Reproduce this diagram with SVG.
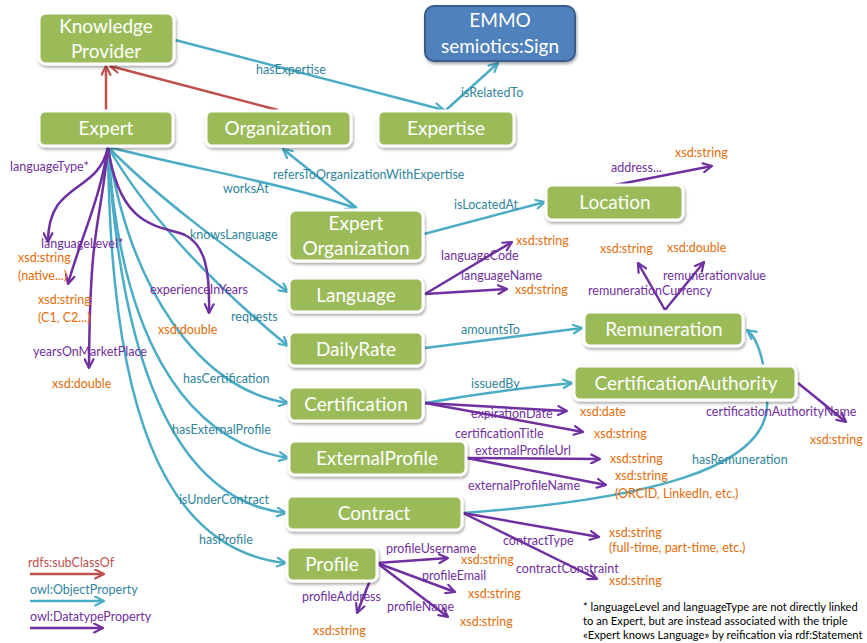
<svg xmlns="http://www.w3.org/2000/svg" width="867" height="643" viewBox="0 0 867 643">
<defs>
<filter id="sh" x="-10%" y="-20%" width="130%" height="160%">
<feDropShadow dx="1" dy="2" stdDeviation="1.6" flood-color="#000" flood-opacity="0.35"/>
</filter>
<marker id="aR" viewBox="0 0 10 10" refX="9" refY="5" markerWidth="11" markerHeight="11" markerUnits="userSpaceOnUse" orient="auto"><path d="M1,1 L9,5 L1,9" fill="none" stroke="#c0504d" stroke-width="2" stroke-linecap="round" stroke-linejoin="round"/></marker>
<marker id="aT" viewBox="0 0 10 10" refX="9" refY="5" markerWidth="11" markerHeight="11" markerUnits="userSpaceOnUse" orient="auto"><path d="M1,1 L9,5 L1,9" fill="none" stroke="#4bacc6" stroke-width="2" stroke-linecap="round" stroke-linejoin="round"/></marker>
<marker id="aP" viewBox="0 0 10 10" refX="9" refY="5" markerWidth="11" markerHeight="11" markerUnits="userSpaceOnUse" orient="auto"><path d="M1,1 L9,5 L1,9" fill="none" stroke="#7030a0" stroke-width="2" stroke-linecap="round" stroke-linejoin="round"/></marker>
</defs>
<style>
.box{fill:#9bbb59;stroke:#fff;stroke-width:3;filter:url(#sh)}
.emmo{fill:#4f81bd;stroke:#385d8a;stroke-width:2;filter:url(#sh)}
.nt{font-family:Lato,"Open Sans",sans-serif;font-size:19px;fill:#fff;text-anchor:middle}
.r{fill:none;stroke:#c0504d;stroke-width:2.5;marker-end:url(#aR)}
.t{fill:none;stroke:#4bacc6;stroke-width:2.5;marker-end:url(#aT)}
.p{fill:none;stroke:#7030a0;stroke-width:2.5;marker-end:url(#aP)}
.lt{font-family:Lato,"Open Sans",sans-serif;font-size:12.5px;fill:#31859c}
.lp{font-family:Lato,"Open Sans",sans-serif;font-size:12.5px;fill:#7030a0}
.lo{font-family:Lato,"Open Sans",sans-serif;font-size:12.5px;fill:#e46c0a}
.lr{font-family:Lato,"Open Sans",sans-serif;font-size:12.5px;fill:#c0504d}
.fn{font-family:Lato,"Open Sans",sans-serif;font-size:11.2px;fill:#000}
</style>
<rect width="867" height="643" fill="#fff"/>

<g id="connectors">
<path class="r" d="M106,110 L106,66"/>
<path class="r" d="M278,110 L110,66"/>
<path class="t" d="M175,40 L444,110"/>
<path class="t" d="M446,110 L498,63"/>
<path class="t" d="M108,147 C200,170 290,185 355,208"/>
<path class="t" d="M357,208 L283,149"/>
<path class="t" d="M424,234 L545,202"/>
<path class="t" d="M425,348 L582,328"/>
<path class="t" d="M425,403 Q500,390 572,383"/>
<path class="t" d="M463,513 C640,500 772,470 767,400 C766,370 760,340 747,330"/>
<path class="t" d="M108,147 C160,200 230,250 288,292"/>
<path class="t" d="M108,147 C150,220 220,290 288,346"/>
<path class="t" d="M108,147 C130,290 200,390 288,403"/>
<path class="t" d="M108,147 C120,330 180,440 288,458"/>
<path class="t" d="M108,147 C120,350 170,500 286,513"/>
<path class="t" d="M108,147 C110,400 160,550 286,563"/>
<path class="p" d="M108,147 C98,195 48,180 48,242"/>
<path class="p" d="M108,147 C100,200 80,240 68,284"/>
<path class="p" d="M108,147 C100,230 90,220 89,368"/>
<path class="p" d="M108,147 C120,230 160,225 185,235 C205,245 210,270 209,313"/>
<path class="p" d="M425,294 L512,242"/>
<path class="p" d="M425,294 L507,289"/>
<path class="p" d="M615,185 L712,166"/>
<path class="p" d="M665,310 L638,263"/>
<path class="p" d="M665,310 L704,262"/>
<path class="p" d="M425,403 L567,411"/>
<path class="p" d="M425,403 L583,432"/>
<path class="p" d="M798,383 L846,422"/>
<path class="p" d="M467,458 L600,459"/>
<path class="p" d="M467,458 L606,485"/>
<path class="p" d="M463,513 L599,537"/>
<path class="p" d="M463,513 L597,579"/>
<path class="p" d="M377,563 L448,558"/>
<path class="p" d="M377,563 L455,592"/>
<path class="p" d="M377,563 L448,617"/>
<path class="p" d="M377,563 L357,613"/>
</g>

<g id="connector-labels">
<text class="lt" x="256" y="74">hasExpertise</text>
<text class="lt" x="461" y="97">isRelatedTo</text>
<text class="lt" x="273" y="179">refersToOrganizationWithExpertise</text>
<text class="lt" x="223" y="193">worksAt</text>
<text class="lt" x="454" y="209">isLocatedAt</text>
<text class="lt" x="190" y="239">knowsLanguage</text>
<text class="lt" x="231" y="321">requests</text>
<text class="lt" x="461" y="334">amountsTo</text>
<text class="lt" x="183" y="383">hasCertification</text>
<text class="lt" x="471" y="388">issuedBy</text>
<text class="lt" x="172" y="434">hasExternalProfile</text>
<text class="lt" x="692" y="464">hasRemuneration</text>
<text class="lt" x="179" y="504">isUnderContract</text>
<text class="lt" x="199" y="544">hasProfile</text>
<text class="lp" x="10" y="171">languageType*</text>
<text class="lp" x="41" y="248">languageLevel*</text>
<text class="lp" x="150" y="294">experienceInYears</text>
<text class="lp" x="33" y="356">yearsOnMarketPlace</text>
<text class="lp" x="611" y="172">address...</text>
<text class="lp" x="441" y="260">languageCode</text>
<text class="lp" x="461" y="280">languageName</text>
<text class="lp" x="663" y="280">remunerationvalue</text>
<text class="lp" x="588" y="295">remunerationCurrency</text>
<text class="lp" x="471" y="418">expirationDate</text>
<text class="lp" x="706" y="416">certificationAuthorityName</text>
<text class="lp" x="455" y="438">certificationTitle</text>
<text class="lp" x="475" y="455">externalProfileUrl</text>
<text class="lp" x="468" y="490">externalProfileName</text>
<text class="lp" x="503" y="545">contractType</text>
<text class="lp" x="516" y="573">contractConstraint</text>
<text class="lp" x="386" y="553">profileUsername</text>
<text class="lp" x="422" y="580">profileEmail</text>
<text class="lp" x="302" y="601">profileAddress</text>
<text class="lp" x="387" y="611">profileName</text>
</g>

<g id="literals">
<text class="lo" x="18" y="262">xsd:string</text>
<text class="lo" x="18" y="280">(native...)</text>
<text class="lo" x="38" y="304">xsd:string</text>
<text class="lo" x="38" y="322">(C1, C2...)</text>
<text class="lo" x="52" y="388">xsd:double</text>
<text class="lo" x="158" y="334">xsd:double</text>
<text class="lo" x="675" y="157">xsd:string</text>
<text class="lo" x="516" y="245">xsd:string</text>
<text class="lo" x="515" y="294">xsd:string</text>
<text class="lo" x="600" y="253">xsd:string</text>
<text class="lo" x="667" y="252">xsd:double</text>
<text class="lo" x="580" y="416">xsd:date</text>
<text class="lo" x="594" y="438">xsd:string</text>
<text class="lo" x="810" y="444">xsd:string</text>
<text class="lo" x="610" y="463">xsd:string</text>
<text class="lo" x="615" y="480">xsd:string</text>
<text class="lo" x="615" y="498">(ORCID, LinkedIn, etc.)</text>
<text class="lo" x="609" y="537">xsd:string</text>
<text class="lo" x="609" y="552">(full-time, part-time, etc.)</text>
<text class="lo" x="609" y="585">xsd:string</text>
<text class="lo" x="461" y="564">xsd:string</text>
<text class="lo" x="468" y="598">xsd:string</text>
<text class="lo" x="460" y="626">xsd:string</text>
<text class="lo" x="313" y="635">xsd:string</text>
</g>

<g id="KnowledgeProvider"><rect class="box" x="39" y="13" width="135" height="51" rx="7"/><text class="nt" x="106" y="33">Knowledge</text><text class="nt" x="106" y="58">Provider</text></g>
<g id="EMMO"><rect class="emmo" x="425" y="6" width="150" height="55" rx="9"/><text class="nt" x="500" y="27">EMMO</text><text class="nt" x="500" y="53">semiotics:Sign</text></g>
<g id="Expert"><rect class="box" x="39" y="111" width="134" height="35" rx="6"/><text class="nt" x="106" y="135">Expert</text></g>
<g id="Organization"><rect class="box" x="206" y="111" width="145" height="35" rx="6"/><text class="nt" x="278" y="135">Organization</text></g>
<g id="Expertise"><rect class="box" x="378" y="111" width="136" height="35" rx="6"/><text class="nt" x="446" y="135">Expertise</text></g>
<g id="ExpertOrganization"><rect class="box" x="289" y="210" width="134" height="51" rx="7"/><text class="nt" x="356" y="230">Expert</text><text class="nt" x="356" y="255">Organization</text></g>
<g id="Location"><rect class="box" x="546" y="185" width="137" height="35" rx="6"/><text class="nt" x="615" y="209">Location</text></g>
<g id="Language"><rect class="box" x="289" y="278" width="134" height="34" rx="6"/><text class="nt" x="356" y="302">Language</text></g>
<g id="DailyRate"><rect class="box" x="289" y="332" width="134" height="34" rx="6"/><text class="nt" x="356" y="356">DailyRate</text></g>
<g id="Remuneration"><rect class="box" x="584" y="312" width="159" height="34" rx="6"/><text class="nt" x="664" y="336">Remuneration</text></g>
<g id="Certification"><rect class="box" x="289" y="387" width="134" height="34" rx="6"/><text class="nt" x="356" y="411">Certification</text></g>
<g id="CertificationAuthority"><rect class="box" x="574" y="366" width="222" height="34" rx="6"/><text class="nt" x="686" y="390">CertificationAuthority</text></g>
<g id="ExternalProfile"><rect class="box" x="289" y="441" width="177" height="34" rx="6"/><text class="nt" x="377" y="465">ExternalProfile</text></g>
<g id="Contract"><rect class="box" x="287" y="496" width="175" height="34" rx="6"/><text class="nt" x="374" y="520">Contract</text></g>
<g id="Profile"><rect class="box" x="287" y="547" width="90" height="34" rx="6"/><text class="nt" x="332" y="571">Profile</text></g>

<g id="legend">
<text class="lr" x="28" y="567">rdfs:subClassOf</text>
<path class="r" d="M30,574 L104,574" stroke-width="3"/>
<text class="lt" x="30" y="594">owl:ObjectProperty</text>
<path class="t" d="M30,601 L104,601" stroke-width="3"/>
<text class="lp" x="30" y="621">owl:DatatypeProperty</text>
<path class="p" d="M30,628 L103,628" stroke-width="3"/>
</g>

<g id="footnote">
<text class="fn" x="583" y="611">* languageLevel and languageType are not directly linked</text>
<text class="fn" x="583" y="625">to an Expert, but are instead associated with the triple</text>
<text class="fn" x="583" y="639">«Expert knows Language» by reification via rdf:Statement</text>
</g>
</svg>
